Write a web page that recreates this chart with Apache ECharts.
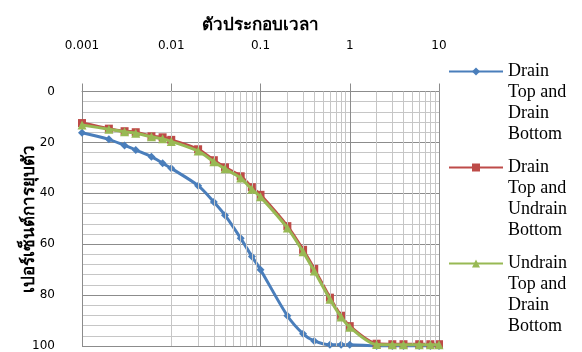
<!DOCTYPE html>
<html><head><meta charset="utf-8">
<script src="https://cdn.jsdelivr.net/npm/echarts@6/dist/echarts.min.js"></script>
<style>html,body{margin:0;padding:0;background:#fff}#c{width:582px;height:352px}</style>
</head><body><div id="c"></div>
<script>
// time factor (x) shared by all series
const timeFactor = [0.001,0.002,0.003,0.004,0.006,0.008,0.01,0.02,0.03,0.04,0.06,0.08,0.1,0.2,0.3,0.4,0.6,0.8,1,2,3,4,6,8,10];
// percent consolidation (y)
const drainTopDrainBottom   = [16.2,18.8,21.2,23.0,25.6,28.2,30.2,37.0,43.4,48.6,57.7,64.8,70.0,88.1,95.2,98.0,99.5,99.5,99.5,100,100,100,100,100,100];
const drainTopUndrainBottom = [12.4,14.6,15.6,16.0,17.6,18.0,19.0,22.7,27.0,29.8,33.3,37.6,40.6,52.9,62.2,69.7,81.0,88.1,92.2,99.1,99.3,99.3,99.3,99.3,99.3];
const undrainTopDrainBottom = [13.2,14.8,15.8,16.4,17.8,18.6,19.6,23.4,27.6,30.4,34.0,38.4,41.4,53.6,63.0,70.5,81.6,88.6,92.6,99.4,99.5,99.5,99.5,99.5,99.5];
const seriesNames = ['Drain\nTop and\nDrain\nBottom','Drain\nTop and\nUndrain\nBottom','Undrain\nTop and\nDrain\nBottom'];
const xTickValues = [0.001,0.01,0.1,1,10];
const yTickValues = [0,20,40,60,80,100];
const xTitle = 'ตัวประกอบเวลา';
const yTitle = 'เปอร์เซ็นต์การยุบตัว';

// minor log grid positions (2..9 within each decade)
const minorX = [];
for (let i = 0; i < xTickValues.length - 1; i++) {
  for (let k = 2; k <= 9; k++) minorX.push({xAxis: +(xTickValues[i] * k).toPrecision(3)});
}
const pairs = ys => timeFactor.map((x, i) => [x, ys[i]]);

const chart = echarts.init(document.getElementById('c'), null, {renderer: 'canvas'});
const LH = 21;
chart.setOption({
  animation: false,
  backgroundColor: '#fff',
  grid: {left: 82, right: 143, top: 91.5, bottom: 3, containLabel: false},
  legend: {
    orient: 'vertical', left: 448, top: -2, padding: 0,
    itemWidth: 54, itemHeight: 10, itemGap: 96 - 7 * LH,
    formatter: n => '\n\n\n' + n,
    textStyle: {fontFamily: 'Liberation Serif, Times New Roman, serif', fontSize: 18, lineHeight: LH, color: '#000'},
    data: seriesNames
  },
  xAxis: {
    type: 'log', logBase: 10, min: 0.001, max: 10, position: 'top',
    name: xTitle, nameLocation: 'middle', nameGap: 57, nameMoveOverlap: false,
    nameTextStyle: {fontFamily: 'Liberation Serif, serif', fontSize: 17, fontWeight: 'bold', color: '#000'},
    axisLine: {show: true, lineStyle: {color: '#8c8c8c', width: 1}},
    axisTick: {show: true, length: 8, lineStyle: {color: '#8c8c8c'}},
    axisLabel: {margin: 40, fontFamily: 'DejaVu Sans', fontSize: 12, color: '#000',
      formatter: v => String(v)},
    splitLine: {show: true, lineStyle: {color: '#8c8c8c', width: 1}}
  },
  yAxis: {
    type: 'value', inverse: true, min: 0, max: 100, interval: 20,
    name: yTitle, nameLocation: 'middle', nameGap: 44, nameMoveOverlap: false,
    nameTextStyle: {fontFamily: 'Liberation Serif, serif', fontSize: 17, fontWeight: 'bold', color: '#000'},
    axisLine: {show: true, lineStyle: {color: '#8c8c8c'}},
    axisTick: {show: false},
    axisLabel: {margin: 27, fontFamily: 'DejaVu Sans', fontSize: 12, color: '#000'},
    splitLine: {show: true, lineStyle: {color: '#8c8c8c', width: 1}},
    minorTick: {show: false, splitNumber: 5},
    minorSplitLine: {show: true, lineStyle: {color: '#c6c6c6', width: 1}}
  },
  series: [
    {type: 'line', name: 'minor', data: [], silent: true, z: 1, legendHoverLink: false,
     markLine: {silent: true, symbol: ['none','none'], label: {show: false},
       lineStyle: {color: '#c6c6c6', width: 1, type: 'solid'}, data: minorX, animation: false}},
    {type: 'line', name: seriesNames[0], data: pairs(drainTopDrainBottom), smooth: 0.3,
     symbol: 'diamond', symbolSize: 8, z: 3,
     lineStyle: {color: '#4a7ebb', width: 3}, itemStyle: {color: '#4a7ebb'}},
    {type: 'line', name: seriesNames[1], data: pairs(drainTopUndrainBottom), smooth: 0.3,
     symbol: 'rect', symbolSize: 8, z: 4,
     lineStyle: {color: '#be4b48', width: 3}, itemStyle: {color: '#be4b48'}},
    {type: 'line', name: seriesNames[2], data: pairs(undrainTopDrainBottom), smooth: 0.3,
     symbol: 'triangle', symbolSize: 9, z: 5,
     lineStyle: {color: '#98b954', width: 3}, itemStyle: {color: '#98b954'}}
  ]
});
</script>
</body></html>
